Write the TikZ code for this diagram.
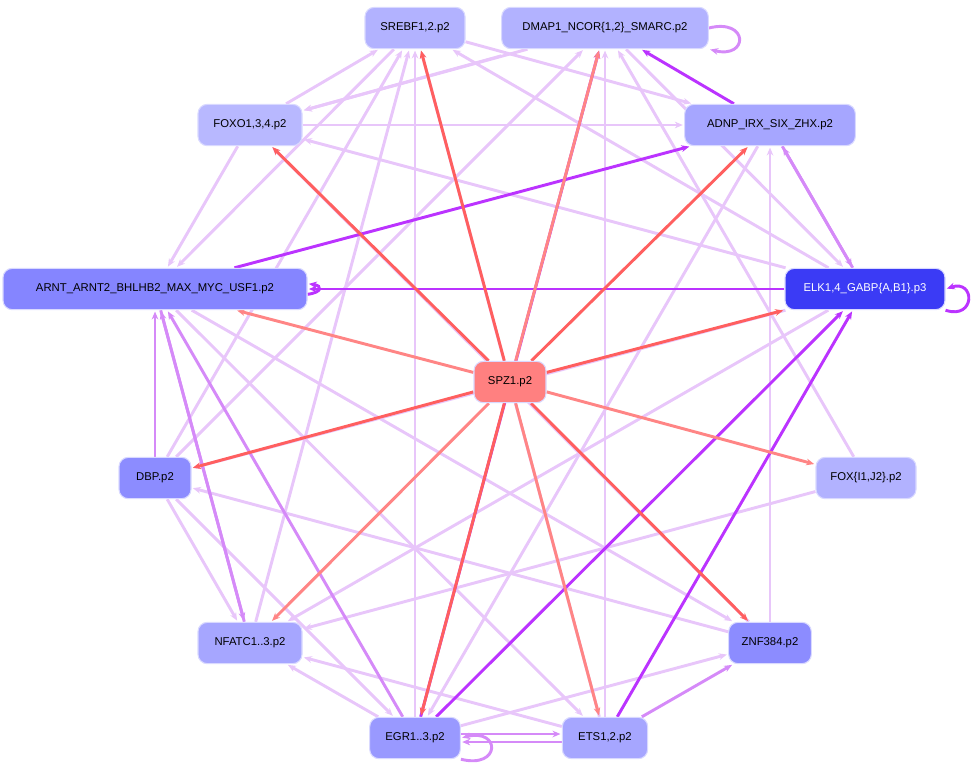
\documentclass[tikz,border=0pt]{standalone}
\usepackage{fontspec}
\setmainfont{Liberation Sans}
\usetikzlibrary{arrows.meta}
\pgfdeclarelayer{bg}
\pgfsetlayers{bg,main}
\definecolor{sp}{HTML}{BB33FF}
\definecolor{mp}{HTML}{D58AF8}
\definecolor{lp}{HTML}{E8C6FA}
\definecolor{rd}{HTML}{FF5F5F}
\definecolor{rl}{HTML}{FF8585}
\definecolor{elkc}{HTML}{3B3BF5}
\definecolor{spzc}{HTML}{FF8080}
\tikzset{
 n/.style={rounded corners=7pt,draw=white!85!blue,line width=0.8pt,minimum height=31pt,font=\fontsize{8.5}{10}\selectfont,inner sep=3pt},
 e/.style={-{Stealth[length=6pt,width=5pt]},line width=2.2pt,shorten >=1pt},
 L/.style={e,lp}, M/.style={e,mp}, S/.style={e,sp}, R/.style={e,rd}, RL/.style={e,rl}
}
\begin{document}
\begin{tikzpicture}[x=0.75pt,y=-0.75pt]
\useasboundingbox (0,0) rectangle (978,769);
\node[n,fill=blue!30!white,minimum width=75pt] (sre) at (415,28) {SREBF1,2.p2};
\node[n,fill=blue!30!white,minimum width=155pt] (dma) at (605,28) {DMAP1\_NCOR\{1,2\}\_SMARC.p2};
\node[n,fill=blue!28!white,minimum width=78pt] (fox) at (250,125) {FOXO1,3,4.p2};
\node[n,fill=blue!35!white,minimum width=128pt] (adn) at (770,125) {ADNP\_IRX\_SIX\_ZHX.p2};
\node[n,fill=blue!48!white,minimum width=228pt] (arn) at (155,289) {ARNT\_ARNT2\_BHLHB2\_MAX\_MYC\_USF1.p2};
\node[n,fill=elkc,minimum width=120pt,text=white] (elk) at (865,289) {ELK1,4\_GABP\{A,B1\}.p3};
\node[n,fill=spzc,minimum width=54pt] (spz) at (510,382) {SPZ1.p2};
\node[n,fill=blue!45!white,minimum width=54pt] (dbp) at (155,478) {DBP.p2};
\node[n,fill=blue!30!white,minimum width=75pt] (foxi) at (866,478) {FOX\{I1,J2\}.p2};
\node[n,fill=blue!35!white,minimum width=78pt] (nfa) at (250,643) {NFATC1..3.p2};
\node[n,fill=blue!45!white,minimum width=62pt] (znf) at (770,643) {ZNF384.p2};
\node[n,fill=blue!40!white,minimum width=68pt] (egr) at (415,738) {EGR1..3.p2};
\node[n,fill=blue!35!white,minimum width=64pt] (ets) at (605,738) {ETS1,2.p2};
\begin{pgfonlayer}{bg}
% light edges
\draw[L] (fox) -- (sre);
\draw[L] (fox) -- (arn);
\draw[L] (sre) -- (arn);
\draw[L] (fox) -- (adn);
\draw[L] (dma) -- (fox);
\draw[L] ([yshift=-5pt]dma.south west) -- (fox);
\draw[L] (elk) -- (fox);
\draw[L] (elk) -- (sre);
\draw[L] (sre) -- (adn);
\draw[L] (dma) -- (elk);
\draw[L] (dbp) -- (sre);
\draw[L] (dbp) -- (dma);
\draw[L] (nfa) -- (sre);
\draw[L] (egr) -- (sre);
\draw[L] (ets) -- (dma);
\draw[L] (znf) -- (fox);
\draw[L] (foxi) -- (dma);
\draw[L] (znf) -- (adn);
\draw[L] (elk) -- (dbp);
\draw[L] (elk) -- (nfa);
\draw[L] (arn) -- (znf);
\draw[L] (arn) -- (ets);
\draw[L] (dbp) -- (nfa);
\draw[L] (znf) -- (dbp);
\draw[L] (foxi) -- (nfa);
\draw[L] (ets) -- (nfa);
\draw[L] (egr) -- (nfa);
\draw[L] (egr) -- (znf);
\draw[L] (ets) -- (sre);
\draw[L] (adn) -- (egr);
\draw[L] (dbp) -- (egr);
% medium edges
\draw[M] (dbp) -- (arn);
\draw[M] (nfa) -- (arn);
\draw[M] (arn) -- (nfa);
\draw[M] (egr) -- (arn);
\draw[M] (elk) -- (adn);
\draw[M] (adn) -- (elk);
\draw[M] (ets) -- (znf);
\draw[M] ([yshift=3pt]egr.east) -- ([yshift=3pt]ets.west);
\draw[M] ([yshift=-3pt]ets.west) -- ([yshift=-3pt]egr.east);
\draw[M] (egr.south east) .. controls +(40,10) and +(40,-10) .. (egr.east);
\draw[M] (dma.east) .. controls +(40,-10) and +(40,10) .. (dma.south east);
% strong edges
\draw[S] (arn) -- (adn);
\draw[S] (elk) -- (arn);
\draw[S] (egr) -- (dma);
\draw[S] (ets) -- (elk);
\draw[S] (egr) -- (elk);
\draw[S] (adn) -- (dma);
\draw[S] (elk.south east) .. controls +(30,10) and +(30,-10) .. (elk.east);
\draw[S] ([yshift=-4pt]arn.east) .. controls +(15,-2) and +(15,2) .. ([yshift=4pt]arn.east);
% red edges
\foreach \t/\c in {sre/R,fox/R,dma/RL,adn/R,arn/RL,elk/R,dbp/R,foxi/RL,nfa/RL,znf/R,egr/R,ets/RL}
  \draw[\c] (spz) -- (\t);
\end{pgfonlayer}
\end{tikzpicture}
\end{document}
